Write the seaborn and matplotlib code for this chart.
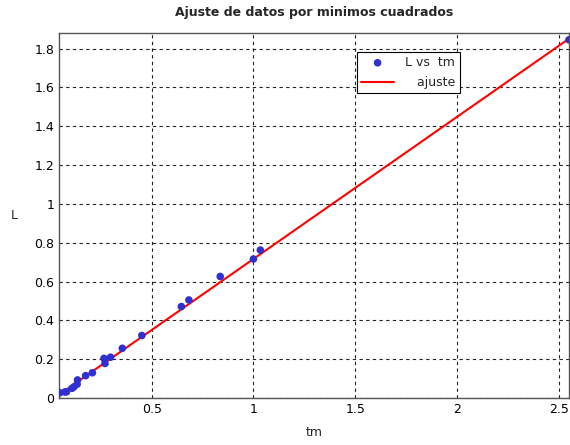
import matplotlib
matplotlib.use("Agg")
import matplotlib.pyplot as plt
import seaborn as sns
import numpy as np
import pandas as pd

tm = [0.049, 0.074, 0.082, 0.109, 0.119, 0.134, 0.136, 0.176, 0.209, 0.266, 0.271,
      0.298, 0.356, 0.452, 0.646, 0.683, 0.837, 1.000, 1.034, 2.550]
L = [0.027, 0.031, 0.032, 0.050, 0.058, 0.071, 0.093, 0.115, 0.130, 0.204, 0.178,
     0.210, 0.256, 0.322, 0.471, 0.505, 0.626, 0.716, 0.762, 1.845]
fit_slope = 0.732
fit_intercept = -0.016

xticks = [0.5, 1, 1.5, 2, 2.5]
xticklabels = ["0.5", "1", "1.5", "2", "2.5"]
yticks = [0, 0.2, 0.4, 0.6, 0.8, 1.0, 1.2, 1.4, 1.6, 1.8]
yticklabels = ["0", "0.2", "0.4", "0.6", "0.8", "1", "1.2", "1.4", "1.6", "1.8"]

sns.set_style("white")
plt.rcParams['font.family'] = ['DejaVu Sans']

df = pd.DataFrame({"tm": tm, "L": L})
fit_x = np.array(tm)
df_fit = pd.DataFrame({"tm": fit_x, "L": fit_slope * fit_x + fit_intercept})

fig = plt.figure(figsize=(5.7, 4.45), dpi=100)
ax = fig.add_axes([0.1035, 0.1056, 0.8947, 0.8202])

sns.scatterplot(data=df, x="tm", y="L", ax=ax, color="#3030d0", s=30,
                edgecolor="none", label="L vs  tm", zorder=3, clip_on=True)
sns.lineplot(data=df_fit, x="tm", y="L", ax=ax, color="red", linewidth=1.5,
             label="ajuste", zorder=2)

ax.set_xlim(0.045, 2.55)
ax.set_ylim(0, 1.88)
ax.set_xticks(xticks)
ax.set_xticklabels(xticklabels, fontsize=9)
ax.set_yticks(yticks)
ax.set_yticklabels(yticklabels, fontsize=9)
ax.tick_params(direction="in", length=3, width=0.8, colors="black")
ax.grid(True, linestyle=(0, (3, 3)), color="#222222", linewidth=0.8)
for s in ax.spines.values():
    s.set_visible(True)
    s.set_color("#555555")
    s.set_linewidth(1.0)

ax.set_xlabel("tm", fontsize=9, labelpad=7)
ax.set_ylabel("L", fontsize=9, rotation=0, labelpad=14, va="center")
ax.set_title("Ajuste de datos por minimos cuadrados", fontsize=9, fontweight="bold", pad=12)

leg = ax.legend(loc="upper left", bbox_to_anchor=(0.572, 0.966), fontsize=9,
                frameon=True, fancybox=False, edgecolor="black", framealpha=1,
                markerfirst=True, handlelength=2.6, borderpad=0.35, labelspacing=0.55,
                handletextpad=0.9)
leg.get_frame().set_linewidth(0.8)

# right-align the shorter legend label by padding with spaces
fig.canvas.draw()
r = fig.canvas.get_renderer()
w0 = leg.texts[0].get_window_extent(r).width
base = leg.texts[1].get_text()
best = base
for n in range(0, 20):
    leg.texts[1].set_text(" " * n + base)
    if leg.texts[1].get_window_extent(r).width > w0 + 1:
        break
    best = " " * n + base
leg.texts[1].set_text(best)

fig.savefig("out.png", dpi=100, facecolor="white")
